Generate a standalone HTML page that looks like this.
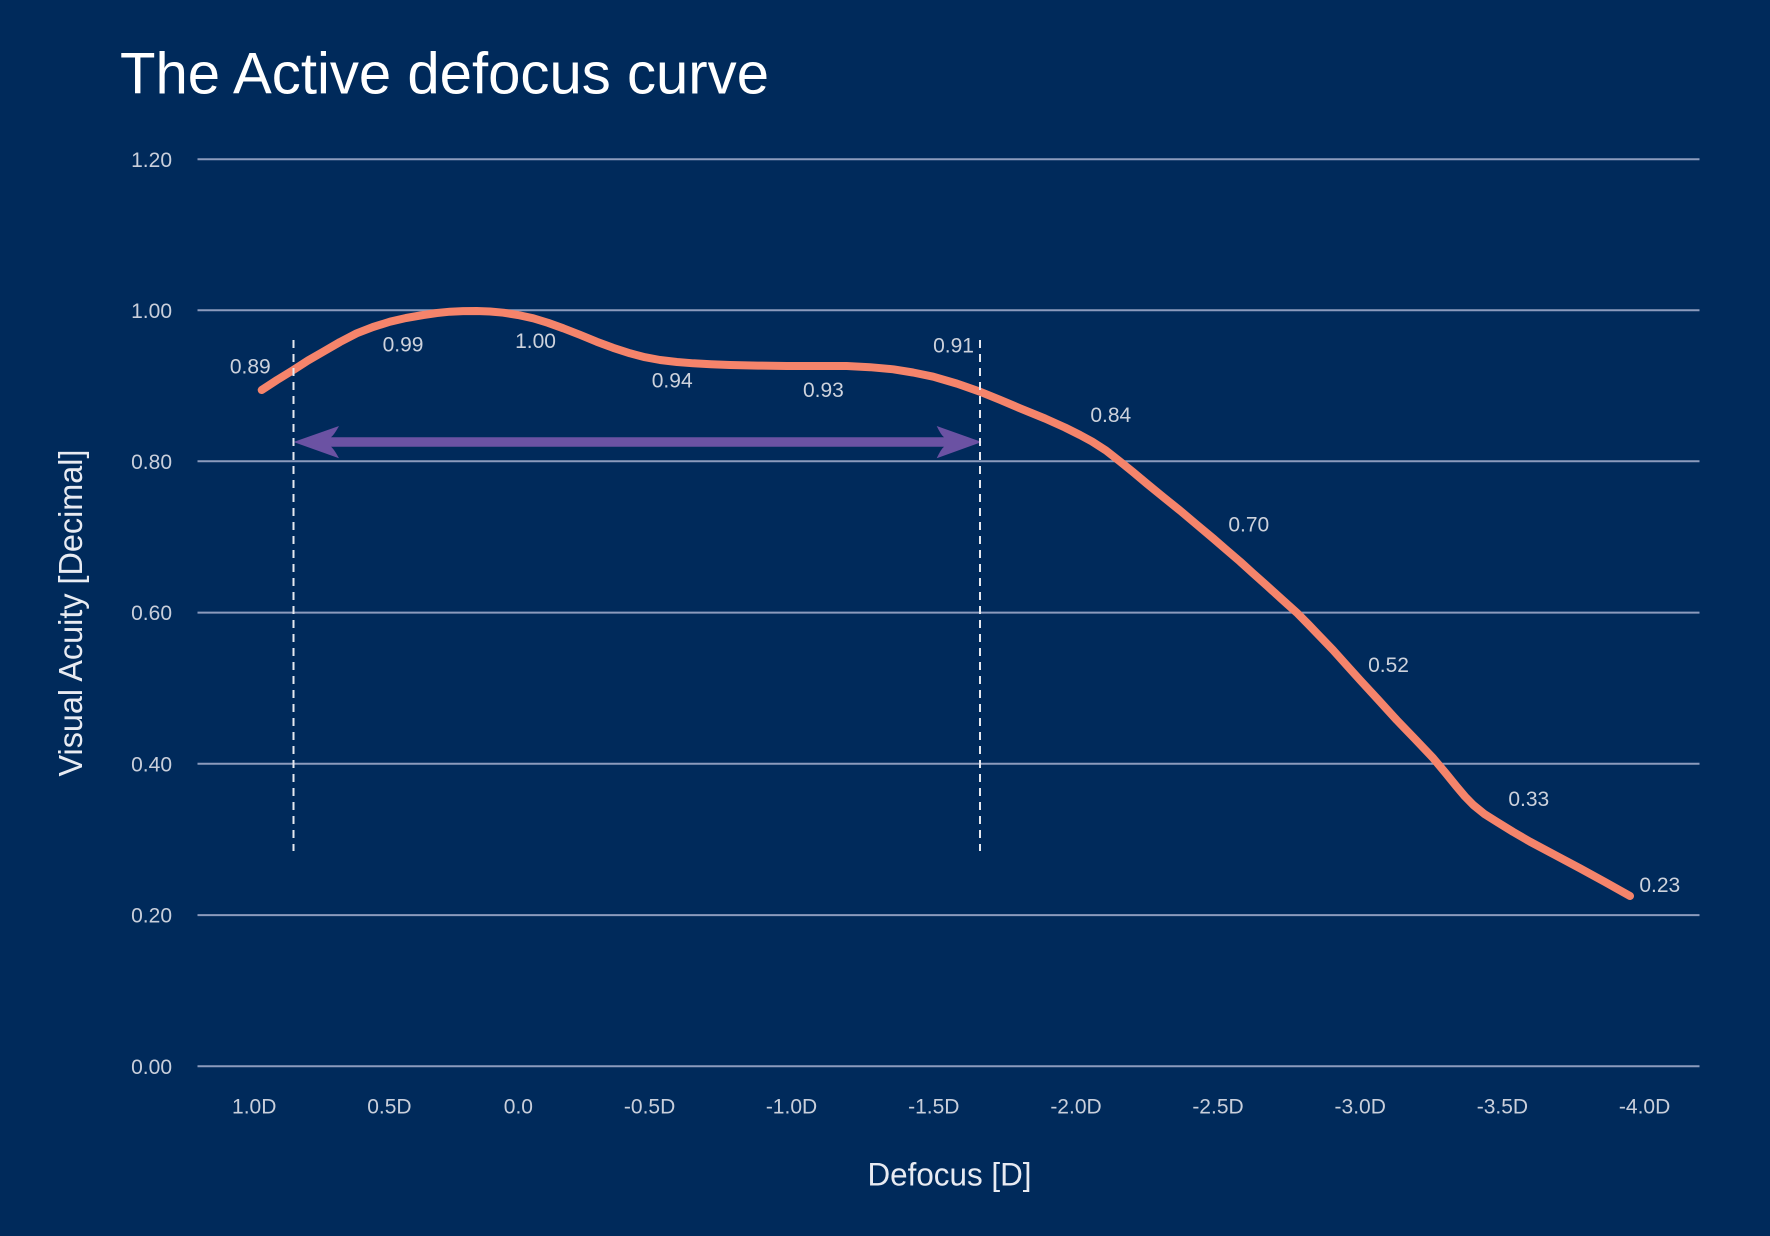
<!DOCTYPE html>
<html>
<head>
<meta charset="utf-8">
<style>
  html, body { margin: 0; padding: 0; background: #002a5b; }
  body { width: 1770px; height: 1236px; overflow: hidden; }
  svg { display: block; }
  text { font-family: "Liberation Sans", "DejaVu Sans", sans-serif; }
</style>
</head>
<body>
<svg width="1770" height="1236" viewBox="0 0 1770 1236" xmlns="http://www.w3.org/2000/svg">
  <rect x="0" y="0" width="1770" height="1236" fill="#002a5b"/>

  <!-- Title -->
  <text x="120" y="93.7" font-size="58" fill="#ffffff" textLength="649" lengthAdjust="spacingAndGlyphs">The Active defocus curve</text>

  <!-- Gridlines -->
  <g stroke="#8c9bbd" stroke-width="2">
    <line x1="197.5" y1="159.2" x2="1699.5" y2="159.2"/>
    <line x1="197.5" y1="310.2" x2="1699.5" y2="310.2"/>
    <line x1="197.5" y1="461.3" x2="1699.5" y2="461.3"/>
    <line x1="197.5" y1="612.6" x2="1699.5" y2="612.6"/>
    <line x1="197.5" y1="763.8" x2="1699.5" y2="763.8"/>
    <line x1="197.5" y1="915.1" x2="1699.5" y2="915.1"/>
    <line x1="197.5" y1="1066.3" x2="1699.5" y2="1066.3"/>
  </g>

  <!-- Y tick labels -->
  <g font-size="21" fill="#c9cfdb" text-anchor="end">
    <text x="172" y="166.8">1.20</text>
    <text x="172" y="317.8">1.00</text>
    <text x="172" y="468.9">0.80</text>
    <text x="172" y="620.2">0.60</text>
    <text x="172" y="771.4">0.40</text>
    <text x="172" y="922.7">0.20</text>
    <text x="172" y="1073.9">0.00</text>
  </g>

  <!-- X tick labels -->
  <g font-size="21" fill="#c9cfdb" text-anchor="middle">
    <text x="254.2" y="1113.5">1.0D</text>
    <text x="389.4" y="1113.5">0.5D</text>
    <text x="518.4" y="1113.5">0.0</text>
    <text x="649.6" y="1113.5">-0.5D</text>
    <text x="791.5" y="1113.5">-1.0D</text>
    <text x="933.8" y="1113.5">-1.5D</text>
    <text x="1076" y="1113.5">-2.0D</text>
    <text x="1218" y="1113.5">-2.5D</text>
    <text x="1360.2" y="1113.5">-3.0D</text>
    <text x="1502.4" y="1113.5">-3.5D</text>
    <text x="1644.6" y="1113.5">-4.0D</text>
  </g>

  <!-- Axis titles -->
  <text x="949.5" y="1185.6" font-size="32" fill="#e8ebf2" text-anchor="middle" textLength="164" lengthAdjust="spacingAndGlyphs">Defocus [D]</text>
  <text transform="translate(82,613) rotate(-90)" x="0" y="0" font-size="33" fill="#e8ebf2" text-anchor="middle" textLength="327" lengthAdjust="spacingAndGlyphs">Visual Acuity [Decimal]</text>

  <!-- Arrow -->
  <path fill="#6b52a3" d="M293.5,442 L339,426 Q334,435 331,437.3 L944,437.3 Q941,435 936.7,426 L981.7,442 L936.7,458.3 Q941,449 944,446.7 L331,446.7 Q334,449 339,458.3 Z"/>

  <!-- Curve -->
  <polyline fill="none" stroke="#f5846b" stroke-width="8" stroke-linecap="round" stroke-linejoin="round"
    points="261.7,390 277,380 293.3,370 308,360.5 323.3,351.7 340,342 356.7,333.3 373,327 390,321.7 406,318 423.3,315 437,313 450,311.7 463,311.1 476.7,311 490,311.5 503.3,312.7 518,315 533.3,318.3 548,322.8 563.3,328.3 580,334.8 596.7,341.7 613,347.8 630,353.3 645,357.2 660,360 677,362 693.3,363.3 711,364.3 730,365 758,365.6 786.7,366 816,366 846.7,366 870,367.2 893.3,369.3 913,372.5 933.3,376.7 957,383.6 980,391.7 1000,399.8 1020,408.3 1045,418.5 1065,427.5 1080,435 1092,441.5 1106,450.5 1120,461.5 1133,472 1146.7,483.5 1163,496.8 1180,510.5 1196,524 1213.3,538.5 1226,549.5 1240,561.5 1253,573.3 1266.7,585.5 1281,598.5 1296.7,612.6 1308,624 1320,636.5 1333,650 1346,664.5 1360,680 1378,699.5 1396.7,720 1415,739 1433.3,758.3 1446,773.5 1456.7,786.7 1465,796.5 1473.3,805 1484,813.7 1496.7,821.7 1513,831.8 1530,841.7 1555,855 1580,868.3 1605,882 1630,896"/>

  <!-- Dashed vertical lines -->
  <g stroke="#e6e9f0" stroke-width="2" stroke-dasharray="8 6">
    <line x1="293.5" y1="340" x2="293.5" y2="851"/>
    <line x1="980" y1="340" x2="980" y2="851"/>
  </g>

  <!-- Data labels -->
  <g font-size="21" fill="#cdd2dc" text-anchor="middle">
    <text x="250.3" y="373.5">0.89</text>
    <text x="403" y="351.7">0.99</text>
    <text x="535.5" y="347.8">1.00</text>
    <text x="672.2" y="387.5">0.94</text>
    <text x="823.4" y="396.8">0.93</text>
    <text x="953.5" y="352.7">0.91</text>
    <text x="1110.8" y="421.8">0.84</text>
    <text x="1248.8" y="531.7">0.70</text>
    <text x="1388.5" y="671.8">0.52</text>
    <text x="1528.8" y="806">0.33</text>
    <text x="1659.8" y="891.8">0.23</text>
  </g>
</svg>
</body>
</html>
